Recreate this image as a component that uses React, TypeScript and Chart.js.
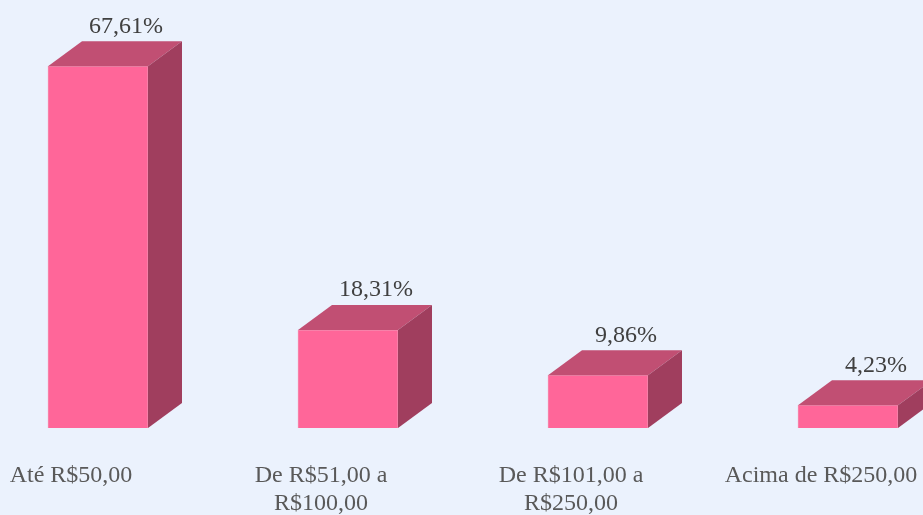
import React, { useEffect, useRef } from "react";
import { Chart, registerables } from "chart.js";

Chart.register(...registerables);

const categories: (string | string[])[] = [
  "Até R$50,00",
  ["De R$51,00 a", "R$100,00"],
  ["De R$101,00 a", "R$250,00"],
  "Acima de R$250,00",
];
const values: number[] = [67.61, 18.31, 9.86, 4.23];

const FRONT = "#FF6699";
const TOP = "#C14F73";
const SIDE = "#A03E5E";
const BG = "#EBF2FD";
const FONT = "'Liberation Serif'";
const DX = 34;
const DY = -25;

const bar3d = {
  id: "bar3d",
  afterDatasetsDraw(chart: any) {
    const ctx = chart.ctx;
    const meta = chart.getDatasetMeta(0);
    ctx.save();
    meta.data.forEach((el: any, i: number) => {
      const { x, y, base, width } = el.getProps(["x", "y", "base", "width"], true);
      const l = x - width / 2;
      const r = x + width / 2;
      ctx.fillStyle = TOP;
      ctx.beginPath();
      ctx.moveTo(l, y);
      ctx.lineTo(l + DX, y + DY);
      ctx.lineTo(r + DX, y + DY);
      ctx.lineTo(r, y);
      ctx.closePath();
      ctx.fill();
      ctx.fillStyle = SIDE;
      ctx.beginPath();
      ctx.moveTo(r, y);
      ctx.lineTo(r + DX, y + DY);
      ctx.lineTo(r + DX, base + DY);
      ctx.lineTo(r, base);
      ctx.closePath();
      ctx.fill();
      ctx.fillStyle = "#404040";
      ctx.font = `24px ${FONT}`;
      ctx.textAlign = "center";
      ctx.textBaseline = "middle";
      const txt = values[i].toFixed(2).replace(".", ",") + "%";
      ctx.fillText(txt, x + 28, y + DY - 15);
    });
    ctx.restore();
  },
};

export default function App() {
  const ref = useRef<HTMLCanvasElement | null>(null);
  useEffect(() => {
    document.body.style.margin = "0";
    if (!ref.current) return;
    const chart = new Chart(ref.current, {
      type: "bar",
      data: {
        labels: categories,
        datasets: [
          {
            data: values,
            backgroundColor: FRONT,
            borderColor: "#F58DB0",
            borderWidth: 1,
            barThickness: 100,
            clip: false as any,
          },
        ],
      },
      options: {
        animation: false,
        responsive: false,
        layout: { padding: { left: 98, right: 75, top: 0, bottom: 0 } },
        plugins: { legend: { display: false }, tooltip: { enabled: false } },
        scales: {
          x: {
            offset: false,
            grid: { display: false, drawTicks: false },
            border: { display: false },
            ticks: {
              font: { family: FONT, size: 24, lineHeight: 1.2 },
              color: "#595959",
              padding: 33,
              labelOffset: -27,
              maxRotation: 0,
              minRotation: 0,
              autoSkip: false,
            },
            afterFit: (scale: any) => {
              scale.height = 87;
              scale.paddingLeft = 0;
              scale.paddingRight = 0;
            },
          },
          y: {
            display: false,
            min: 0,
            max: 80,
          },
        },
      },
      plugins: [bar3d],
    });
    return () => chart.destroy();
  }, []);
  return (
    <div style={{ width: 923, height: 515, background: BG }}>
      <canvas ref={ref} width={923} height={515} style={{ display: "block" }} />
    </div>
  );
}
